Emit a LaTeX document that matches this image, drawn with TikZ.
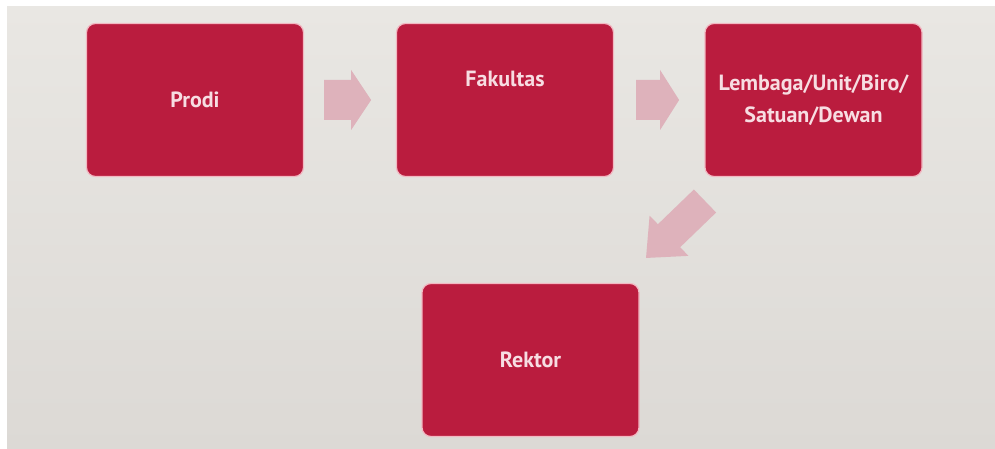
\documentclass[tikz,border=0pt]{standalone}
\usepackage{fontspec}
\setmainfont{PT Sans}
\usetikzlibrary{calc}
\definecolor{bgtop}{HTML}{E9E7E3}
\definecolor{bgbot}{HTML}{DCD9D5}
\definecolor{boxred}{HTML}{BA1C3E}
\definecolor{boxedge}{HTML}{F2B8C2}
\definecolor{arrowpink}{HTML}{DEB2BB}
\definecolor{txtpink}{HTML}{F7DDE2}
\tikzset{
  boxfont/.style={font=\bfseries\fontsize{22}{32}\selectfont},
  redbox/.style={fill=boxred, draw=boxedge, line width=1.2pt, rounded corners=9pt,
    minimum width=217pt, minimum height=153pt, inner sep=0pt,
    text=txtpink, boxfont, align=center},
  blockarrow/.style={fill=arrowpink}
}
\begin{document}
\begin{tikzpicture}[x=1pt,y=-1pt]
  \useasboundingbox (0,0) rectangle (995,449);
  \fill[white] (0,0) rectangle (995,449);
  \shade[top color=bgtop, bottom color=bgbot] (7,7) rectangle (996,450);

  \node[redbox] (prodi) at (195,100) {Prodi};
  \node[redbox, label={[text=txtpink, boxfont, yshift=21pt]center:Fakultas}] (fak) at (505,100) {};
  \node[redbox] (lemb) at (813.5,100) {Lembaga/Unit/Biro/\\Satuan/Dewan};
  \node[redbox] (rektor) at (530.5,360) {Rektor};

  % block arrows
  \coordinate (a1s) at ($(prodi.east)+(20,0)$);
  \coordinate (a2s) at ($(fak.east)+(22,0)$);
  \coordinate (a3s) at (705,201);
  \fill[blockarrow, shift={(a1s)}]
    (0,-20) -- (27,-20) -- (27,-30) -- (47,0) -- (27,30) -- (27,20) -- (0,20) -- cycle;
  \fill[blockarrow, shift={(a2s)}]
    (0,-20) -- (24,-20) -- (24,-30) -- (43,0) -- (24,30) -- (24,20) -- (0,20) -- cycle;
  \fill[blockarrow, shift={(a3s)}, rotate=224]
    (0,-16) -- (50,-16) -- (50,-28) -- (82,0) -- (50,28) -- (50,16) -- (0,16) -- cycle;
\end{tikzpicture}
\end{document}
